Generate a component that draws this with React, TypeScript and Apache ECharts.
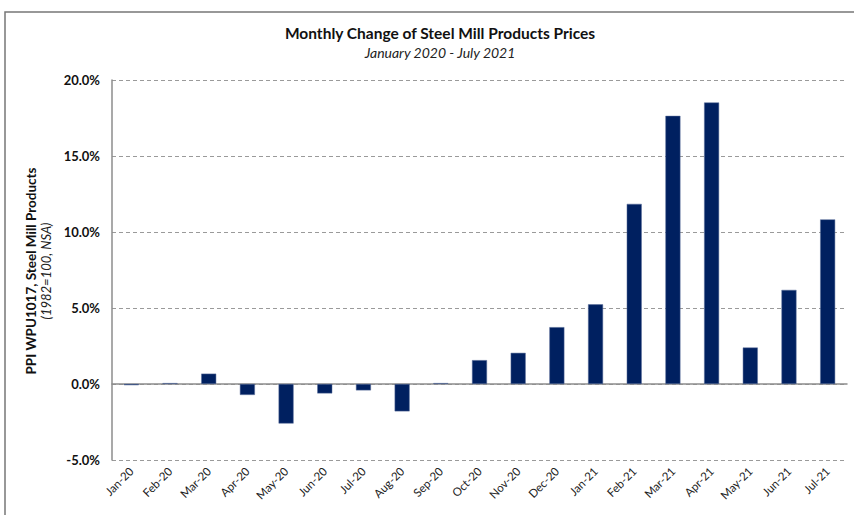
import React, { useEffect, useRef } from "react";
import * as echarts from "echarts";

const categories = [
  "Jan-20", "Feb-20", "Mar-20", "Apr-20", "May-20", "Jun-20", "Jul-20", "Aug-20", "Sep-20", "Oct-20",
  "Nov-20", "Dec-20", "Jan-21", "Feb-21", "Mar-21", "Apr-21", "May-21", "Jun-21", "Jul-21",
];
const monthlyChange = [
  -0.08, 0.06, 0.68, -0.72, -2.6, -0.62, -0.42, -1.8, 0.06, 1.57,
  2.05, 3.74, 5.24, 11.85, 17.64, 18.52, 2.4, 6.19, 10.83,
];
const yTicks = { min: -5, max: 20, interval: 5 };

const FONT = "Lato, 'Open Sans', sans-serif";

export default function App() {
  const ref = useRef<HTMLDivElement>(null);
  useEffect(() => {
    document.body.style.margin = "0";
    const chart = echarts.init(ref.current!, null, { renderer: "svg" });
    chart.setOption({
      animation: false,
      backgroundColor: "#ffffff",
      title: {
        text: "Monthly Change of Steel Mill Products Prices",
        subtext: "January 2020 - July 2021",
        left: 435,
        textAlign: "center",
        top: 20,
        itemGap: 4,
        textStyle: { fontFamily: FONT, fontSize: 15.5, fontWeight: "bold", color: "#111" },
        subtextStyle: { fontFamily: FONT, fontSize: 14, fontStyle: "italic", color: "#222" },
      },
      grid: { left: 112, right: 7, top: 80, bottom: 55, containLabel: false },
      xAxis: {
        type: "category",
        data: categories,
        axisLine: { onZero: true, lineStyle: { color: "#8c8c8c", width: 1.5 } },
        axisTick: { show: false },
        axisLabel: {
          rotate: 45,
          fontFamily: FONT,
          fontSize: 11.5,
          color: "#222",
          margin: 9,
          interval: 0,
        },
      },
      yAxis: {
        type: "value",
        min: yTicks.min,
        max: yTicks.max,
        interval: yTicks.interval,
        axisLine: { show: true, lineStyle: { color: "#8c8c8c", width: 1.5 } },
        axisTick: { show: false },
        axisLabel: {
          formatter: (v: number) => v.toFixed(1) + "%",
          fontFamily: FONT,
          fontSize: 13,
          fontWeight: "bold",
          color: "#111",
          margin: 12,
        },
        splitLine: { show: true, lineStyle: { color: "#9a9a9a", type: [4, 3], width: 1.2 } },
      },
      series: [
        {
          type: "bar",
          data: monthlyChange,
          barWidth: 15,
          itemStyle: { color: "#002060", borderColor: "#5a6f9a", borderWidth: 0.5 },
        },
      ],
      graphic: [
        {
          type: "rect",
          shape: { x: 5, y: 12, width: 900, height: 600 },
          style: { fill: "none", stroke: "#777", lineWidth: 1.5 },
          silent: true,
        },
        {
          type: "text",
          x: 31,
          y: 271,
          rotation: Math.PI / 2,
          style: {
            text: "PPI WPU1017, Steel Mill Products",
            fontFamily: FONT,
            fontSize: 13.5,
            fontWeight: "bold",
            fill: "#111",
            textAlign: "center",
            textVerticalAlign: "middle",
          },
        },
        {
          type: "text",
          x: 46,
          y: 271,
          rotation: Math.PI / 2,
          style: {
            text: "(1982=100, NSA)",
            fontFamily: FONT,
            fontSize: 13,
            fontStyle: "italic",
            fill: "#222",
            textAlign: "center",
            textVerticalAlign: "middle",
          },
        },
      ],
    });
    return () => chart.dispose();
  }, []);
  return <div ref={ref} style={{ width: 854, height: 515 }} />;
}
